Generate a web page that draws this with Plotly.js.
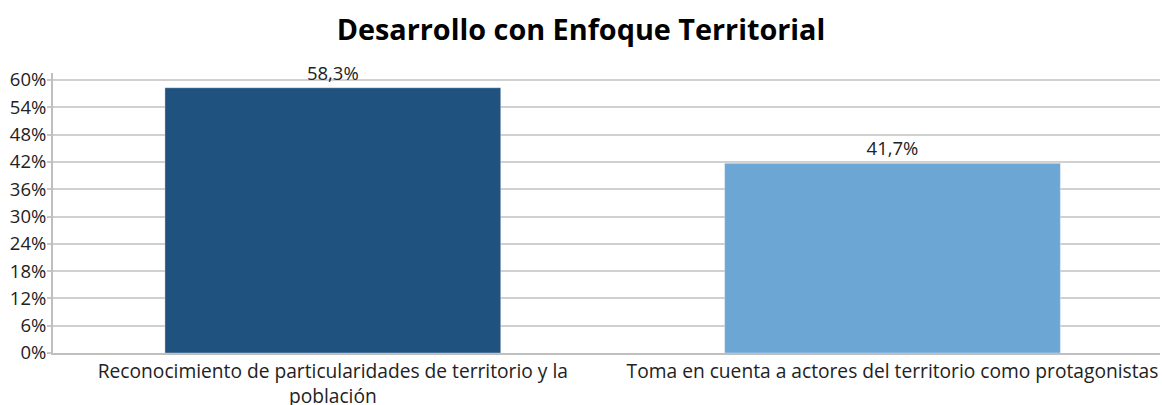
<!DOCTYPE html>
<html><head><meta charset="utf-8">
<script src="https://cdn.plot.ly/plotly-3.0.1.min.js"></script>
<style>html,body{margin:0;padding:0;background:#fff;overflow:hidden}</style>
</head><body>
<div id="chart" style="width:1162px;height:405px"></div>
<script>
const categories = ["Reconocimiento de particularidades de territorio y la<br>población", "Toma en cuenta a actores del territorio como protagonistas"];
const values = [0.583, 0.417];
const labels = ["58,3%", "41,7%"];
const colors = ["#1F527F", "#6CA6D5"];
const tickVals = [0, 0.06, 0.12, 0.18, 0.24, 0.30, 0.36, 0.42, 0.48, 0.54, 0.60];
const tickText = ["0%", "6%", "12%", "18%", "24%", "30%", "36%", "42%", "48%", "54%", "60%"];

const F = "Open Sans, Noto Sans, sans-serif";
Plotly.newPlot("chart", [{
  type: "bar",
  x: categories,
  y: values,
  text: labels,
  textposition: "outside",
  texttemplate: "%{text}",
  cliponaxis: false,
  textfont: {family: F, size: 18.5, color: "#222"},
  marker: {color: colors, line: {color: "rgba(255,255,255,0.35)", width: 1}},
  hoverinfo: "none"
}], {
  width: 1162, height: 405,
  margin: {l: 53, r: 2, t: 73, b: 52},
  bargap: 0.4,
  paper_bgcolor: "#fff", plot_bgcolor: "#fff",
  title: {text: "<b>Desarrollo con Enfoque Territorial</b>", x: 0.5, xanchor: "center", y: 0.926, yanchor: "middle",
    font: {family: F, size: 28.8, color: "#000"}},
  xaxis: {range: [-0.5, 1.478], showline: true, linecolor: "#BFBFBF", linewidth: 2, ticks: "",
    tickfont: {family: F, size: 19.2, color: "#222"}, fixedrange: true},
  yaxis: {range: [0, 0.6154], tickvals: tickVals, ticktext: tickText, showgrid: true, gridcolor: "#D0D0D0", gridwidth: 2,
    showline: true, linecolor: "#BFBFBF", linewidth: 2, zeroline: false, ticks: "outside", ticklen: 4, tickcolor: "#C8C8C8", tickwidth: 2,
    ticklabelstandoff: -3,
    tickfont: {family: F, size: 18.5, color: "#222"}, fixedrange: true},
  showlegend: false
}, {displayModeBar: false, staticPlot: true});
</script>
</body></html>
